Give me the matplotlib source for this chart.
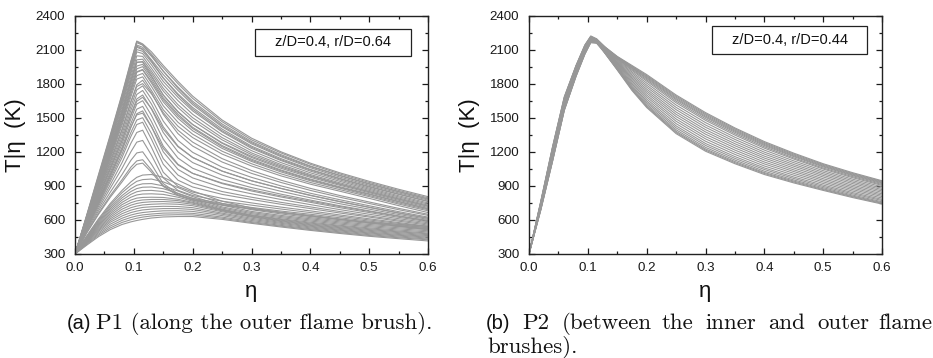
import matplotlib
matplotlib.use("Agg")
import matplotlib.pyplot as plt
from matplotlib.patches import Rectangle
from matplotlib.ticker import MultipleLocator

# ---------------- data ----------------
eta = [0.0, 0.02, 0.04, 0.06, 0.08, 0.095, 0.105, 0.115, 0.13, 0.15, 0.175,
       0.20, 0.25, 0.30, 0.35, 0.40, 0.45, 0.50, 0.55, 0.60]

# P1 (z/D=0.4, r/D=0.64): conditional temperature samples
T_p1 = [
    [300, 640, 990, 1340, 1700, 1990, 2175, 2150, 2080, 1960, 1820, 1690, 1480, 1320, 1200, 1100, 1015, 940, 870, 805],
    [300, 645, 1000, 1350, 1710, 2000, 2170, 2140, 2050, 1910, 1760, 1630, 1430, 1280, 1165, 1070, 990, 915, 848, 785],
    [300, 635, 975, 1320, 1680, 1970, 2160, 2140, 2060, 1940, 1800, 1670, 1465, 1305, 1190, 1090, 1005, 930, 860, 795],
    [300, 630, 965, 1305, 1660, 1950, 2140, 2120, 2040, 1910, 1770, 1645, 1445, 1290, 1175, 1075, 993, 920, 850, 785],
    [300, 625, 960, 1300, 1655, 1945, 2130, 2105, 2000, 1850, 1700, 1575, 1385, 1240, 1130, 1040, 962, 890, 825, 762],
    [300, 625, 955, 1290, 1640, 1930, 2120, 2100, 2010, 1880, 1740, 1615, 1420, 1270, 1157, 1060, 978, 905, 838, 775],
    [300, 620, 945, 1275, 1620, 1910, 2100, 2085, 1990, 1850, 1710, 1590, 1400, 1250, 1140, 1045, 966, 895, 828, 765],
    [300, 615, 935, 1260, 1600, 1890, 2080, 2065, 1965, 1820, 1680, 1560, 1375, 1230, 1123, 1030, 952, 880, 813, 750],
    [300, 610, 925, 1245, 1575, 1860, 2045, 2040, 1935, 1790, 1650, 1530, 1350, 1210, 1105, 1015, 940, 870, 803, 740],
    [300, 605, 915, 1230, 1555, 1835, 2010, 2015, 1910, 1760, 1615, 1500, 1325, 1190, 1088, 1000, 927, 860, 793, 730],
    [300, 600, 910, 1225, 1545, 1820, 1990, 1990, 1870, 1700, 1550, 1440, 1280, 1160, 1066, 985, 914, 848, 784, 722],
    [300, 600, 905, 1215, 1535, 1810, 1985, 1995, 1890, 1735, 1590, 1475, 1305, 1175, 1076, 990, 917, 850, 783, 720],
    [300, 595, 895, 1200, 1515, 1785, 1955, 1970, 1860, 1700, 1555, 1440, 1275, 1150, 1055, 975, 905, 840, 773, 710],
    [300, 590, 885, 1185, 1495, 1760, 1930, 1950, 1840, 1675, 1530, 1415, 1255, 1135, 1040, 960, 892, 830, 763, 700],
    [300, 590, 880, 1180, 1485, 1745, 1905, 1925, 1820, 1660, 1515, 1405, 1245, 1125, 1033, 953, 886, 825, 760, 698],
    [300, 585, 875, 1170, 1475, 1735, 1900, 1920, 1805, 1640, 1495, 1385, 1230, 1115, 1023, 945, 880, 815, 750, 690],
    [300, 580, 865, 1155, 1455, 1710, 1870, 1890, 1775, 1605, 1460, 1355, 1205, 1095, 1006, 930, 867, 805, 740, 680],
    [300, 575, 855, 1140, 1435, 1685, 1840, 1860, 1740, 1570, 1425, 1325, 1180, 1075, 988, 915, 853, 790, 726, 665],
    [300, 565, 835, 1105, 1390, 1640, 1790, 1830, 1720, 1530, 1360, 1250, 1110, 1010, 930, 860, 800, 745, 690, 640],
    [300, 570, 845, 1120, 1400, 1640, 1775, 1800, 1710, 1545, 1390, 1285, 1140, 1035, 950, 878, 815, 758, 702, 650],
    [300, 560, 820, 1085, 1360, 1600, 1745, 1780, 1665, 1470, 1300, 1195, 1065, 975, 900, 835, 778, 725, 673, 625],
    [300, 555, 805, 1065, 1330, 1565, 1705, 1740, 1620, 1420, 1250, 1150, 1030, 945, 877, 815, 760, 710, 660, 615],
    [300, 550, 795, 1045, 1300, 1530, 1665, 1700, 1575, 1370, 1200, 1105, 995, 915, 852, 795, 743, 695, 648, 605],
    [300, 555, 800, 1050, 1300, 1520, 1645, 1680, 1580, 1400, 1245, 1150, 1030, 945, 878, 818, 763, 712, 662, 615],
    [300, 545, 780, 1020, 1270, 1490, 1620, 1650, 1520, 1310, 1145, 1055, 955, 885, 827, 775, 725, 680, 636, 595],
    [300, 540, 770, 1000, 1240, 1450, 1575, 1600, 1465, 1250, 1090, 1010, 920, 855, 802, 755, 708, 665, 623, 585],
    [300, 535, 755, 980, 1210, 1415, 1535, 1560, 1420, 1200, 1045, 970, 885, 830, 780, 735, 691, 650, 611, 575],
    [300, 540, 765, 995, 1225, 1420, 1525, 1540, 1420, 1230, 1085, 1010, 925, 865, 812, 765, 718, 675, 632, 592],
    [300, 530, 745, 960, 1180, 1370, 1480, 1500, 1360, 1140, 995, 925, 850, 800, 755, 715, 674, 635, 599, 565],
    [300, 525, 735, 940, 1150, 1335, 1440, 1460, 1310, 1090, 950, 890, 825, 780, 738, 700, 661, 625, 589, 555],
    [300, 520, 720, 910, 1105, 1275, 1370, 1390, 1240, 1020, 895, 845, 790, 750, 713, 680, 644, 610, 577, 545],
    [300, 510, 700, 880, 1055, 1200, 1285, 1300, 1170, 970, 860, 815, 765, 730, 696, 665, 632, 600, 569, 540],
    [300, 500, 680, 845, 1000, 1125, 1190, 1200, 1090, 920, 830, 790, 745, 710, 678, 650, 619, 590, 559, 530],
    [300, 490, 660, 815, 955, 1065, 1120, 1130, 1040, 900, 820, 780, 735, 700, 668, 640, 609, 580, 549, 520],
    [300, 485, 650, 800, 935, 1040, 1090, 1100, 1020, 895, 815, 775, 730, 695, 663, 635, 604, 575, 544, 515],
    [300, 460, 610, 745, 860, 935, 975, 995, 1000, 975, 915, 855, 765, 705, 665, 630, 603, 580, 561, 545],
    [300, 455, 600, 730, 840, 905, 940, 955, 960, 935, 885, 830, 745, 690, 653, 620, 593, 570, 551, 535],
    [300, 450, 590, 715, 815, 875, 905, 918, 920, 900, 855, 805, 730, 675, 640, 610, 583, 560, 541, 525],
    [300, 445, 580, 700, 795, 850, 876, 888, 890, 875, 835, 790, 715, 665, 630, 600, 573, 550, 531, 515],
    [300, 440, 570, 685, 775, 825, 848, 858, 860, 850, 815, 775, 705, 655, 620, 590, 563, 540, 521, 505],
    [300, 435, 560, 670, 755, 800, 820, 828, 830, 825, 800, 765, 695, 645, 610, 580, 553, 530, 511, 495],
    [300, 430, 550, 655, 735, 775, 792, 798, 800, 798, 782, 755, 690, 640, 604, 572, 546, 522, 502, 485],
    [300, 425, 540, 640, 715, 752, 768, 776, 780, 780, 770, 748, 685, 635, 598, 565, 539, 515, 495, 478],
    [300, 420, 530, 625, 695, 730, 745, 754, 760, 762, 755, 738, 680, 630, 592, 558, 532, 508, 488, 470],
    [300, 415, 520, 610, 675, 708, 722, 732, 738, 742, 738, 725, 672, 625, 586, 552, 525, 500, 480, 462],
    [300, 410, 510, 595, 655, 686, 700, 710, 716, 720, 718, 708, 660, 615, 578, 545, 517, 492, 472, 455],
    [300, 405, 500, 580, 635, 665, 678, 688, 695, 700, 700, 692, 650, 605, 570, 538, 510, 485, 465, 448],
    [300, 398, 488, 563, 615, 643, 656, 665, 673, 680, 681, 675, 638, 595, 561, 530, 503, 478, 458, 440],
    [300, 392, 476, 546, 596, 622, 635, 644, 652, 660, 662, 658, 625, 585, 552, 522, 495, 470, 450, 432],
    [300, 385, 465, 530, 578, 602, 615, 625, 635, 643, 646, 644, 615, 577, 545, 515, 488, 463, 443, 425],
    [300, 378, 453, 515, 560, 583, 595, 605, 617, 626, 630, 630, 605, 570, 538, 508, 481, 456, 435, 415],
]

# P2 (z/D=0.4, r/D=0.44)
T_p2 = [
    [300, 760, 1240, 1680, 1960, 2140, 2220, 2195, 2120, 2040, 1960, 1880, 1700, 1545, 1410, 1290, 1188, 1095, 1016, 945],
    [300, 720, 1180, 1620, 1910, 2100, 2190, 2180, 2118, 2036, 1953, 1871, 1690, 1535, 1401, 1281, 1180, 1088, 1009, 939],
    [300, 740, 1210, 1650, 1940, 2120, 2210, 2190, 2116, 2033, 1947, 1863, 1680, 1525, 1391, 1273, 1172, 1081, 1003, 933],
    [300, 700, 1150, 1590, 1890, 2080, 2180, 2175, 2115, 2029, 1940, 1854, 1669, 1514, 1382, 1264, 1164, 1074, 996, 927],
    [300, 755, 1235, 1675, 1955, 2135, 2215, 2190, 2113, 2026, 1934, 1845, 1659, 1504, 1372, 1255, 1157, 1067, 990, 920],
    [300, 690, 1120, 1570, 1870, 2065, 2165, 2165, 2110, 2021, 1925, 1834, 1646, 1491, 1360, 1244, 1146, 1057, 981, 912],
    [300, 735, 1205, 1645, 1935, 2115, 2205, 2185, 2108, 2016, 1916, 1822, 1632, 1477, 1347, 1232, 1136, 1048, 972, 904],
    [300, 715, 1175, 1615, 1905, 2095, 2190, 2175, 2104, 2009, 1903, 1805, 1612, 1457, 1328, 1215, 1120, 1034, 959, 892],
    [300, 705, 1155, 1595, 1895, 2085, 2180, 2170, 2101, 2002, 1890, 1787, 1591, 1436, 1309, 1197, 1104, 1020, 946, 879],
    [300, 750, 1225, 1665, 1950, 2130, 2210, 2185, 2097, 1994, 1876, 1770, 1571, 1416, 1290, 1180, 1088, 1006, 933, 867],
    [300, 695, 1125, 1575, 1875, 2070, 2170, 2160, 2094, 1987, 1863, 1752, 1550, 1395, 1271, 1162, 1073, 992, 920, 855],
    [300, 745, 1215, 1655, 1945, 2125, 2200, 2180, 2090, 1980, 1850, 1735, 1530, 1375, 1253, 1145, 1057, 978, 906, 843],
    [300, 725, 1185, 1625, 1915, 2100, 2185, 2170, 2086, 1973, 1837, 1718, 1510, 1355, 1234, 1128, 1041, 963, 893, 830],
    [300, 700, 1145, 1585, 1885, 2075, 2175, 2165, 2083, 1966, 1824, 1700, 1489, 1334, 1215, 1110, 1026, 949, 880, 818],
    [300, 765, 1245, 1685, 1960, 2140, 2215, 2185, 2079, 1958, 1810, 1683, 1469, 1314, 1196, 1093, 1010, 935, 867, 806],
    [300, 685, 1115, 1565, 1865, 2060, 2165, 2160, 2076, 1951, 1797, 1665, 1448, 1293, 1177, 1075, 994, 921, 854, 793],
    [300, 740, 1205, 1645, 1935, 2115, 2195, 2175, 2072, 1944, 1784, 1648, 1428, 1273, 1158, 1058, 978, 907, 841, 781],
    [300, 720, 1180, 1620, 1905, 2090, 2180, 2165, 2069, 1938, 1773, 1634, 1411, 1256, 1142, 1044, 965, 895, 830, 771],
    [300, 705, 1150, 1590, 1885, 2075, 2170, 2160, 2066, 1932, 1762, 1619, 1394, 1239, 1127, 1029, 952, 884, 819, 760],
    [300, 755, 1230, 1670, 1950, 2130, 2205, 2180, 2064, 1927, 1753, 1607, 1380, 1225, 1114, 1017, 942, 874, 810, 752],
    [300, 690, 1120, 1565, 1865, 2060, 2160, 2155, 2062, 1924, 1747, 1598, 1370, 1215, 1104, 1009, 934, 867, 804, 746],
    [300, 735, 1200, 1640, 1930, 2110, 2190, 2170, 2060, 1920, 1740, 1590, 1360, 1205, 1095, 1000, 926, 860, 797, 740],
]

labels = ["z/D=0.4, r/D=0.64", "z/D=0.4, r/D=0.44"]
xticks = [0.0, 0.1, 0.2, 0.3, 0.4, 0.5, 0.6]
yticks = [300, 600, 900, 1200, 1500, 1800, 2100, 2400]

# ---------------- figure ----------------
W, H = 933, 358
fig = plt.figure(figsize=(W / 100, H / 100), dpi=100)
SANS = ["Liberation Sans", "DejaVu Sans"]
SERIF = ["cmr10", "DejaVu Serif"]
plt.rcParams["font.family"] = SANS

line_col = "#979797"

def fx(px):
    return px / W

def fy(py):
    return 1 - py / H

axes_px = [(75, 428), (529, 882)]
top_px, bot_px = 15.5, 254
box_px = [(255, 29, 411, 56), (712, 26, 867, 54)]

for i, (data, lab) in enumerate(zip([T_p1, T_p2], labels)):
    l, r = axes_px[i]
    ax = fig.add_axes([fx(l), fy(bot_px), fx(r - l), (bot_px - top_px) / H])
    for curve in data:
        ax.plot(eta, curve, color=line_col, lw=0.8, solid_joinstyle="round")
    ax.set_xlim(0, 0.6)
    ax.set_ylim(300, 2400)
    ax.set_xticks(xticks)
    ax.set_xticklabels([f"{t:.1f}" for t in xticks])
    ax.set_yticks(yticks)
    ax.set_yticklabels([str(t) for t in yticks])
    ax.xaxis.set_minor_locator(MultipleLocator(0.05))
    ax.yaxis.set_minor_locator(MultipleLocator(150))
    ax.tick_params(which="both", direction="in", top=True, right=True,
                   labelsize=9.6, colors="#1a1a1a", width=0.9)
    ax.tick_params(axis="x", which="major", pad=6)
    ax.tick_params(axis="y", which="major", pad=7)
    ax.tick_params(which="major", length=4)
    ax.tick_params(which="minor", length=2.2)
    for s in ax.spines.values():
        s.set_linewidth(1.0)
        s.set_color("#222222")
    # label box
    bx0, by0, bx1, by1 = box_px[i]
    fig.patches.append(Rectangle((fx(bx0), fy(by1)), fx(bx1 - bx0), (by1 - by0) / H,
                                 transform=fig.transFigure, fill=False,
                                 edgecolor="#222222", lw=0.9))
    fig.text(fx((bx0 + bx1) / 2), fy((by0 + by1) / 2), lab, ha="center",
             va="center", fontsize=10.5, color="#111111")
    # axis labels
    fig.text(fx((l + r) / 2), fy(291), "η", ha="center", va="center",
             fontsize=16, color="#111111")
    fig.text(fx(l - 59), fy(135), "T|η  (K)", ha="center", va="center",
             rotation=90, fontsize=16, color="#111111")

# captions
cap_base = fy(329)
CAP = 16.5
fig.text(fx(67), cap_base, "(a)", fontsize=14.5, va="baseline", ha="left", color="#111111")
fig.text(fx(96), cap_base, "P1 (along the outer flame brush).", fontsize=CAP,
         family=SERIF, va="baseline", ha="left", color="#111111")

fig.text(fx(486), cap_base, "(b)", fontsize=14.5, va="baseline", ha="left", color="#111111")
words_b = ["P2", "(between", "the", "inner", "and", "outer", "flame"]
words_x = [522, 562, 662, 705, 768, 817, 878]
for w, x in zip(words_b, words_x):
    fig.text(fx(x), cap_base, w, fontsize=CAP, family=SERIF, va="baseline",
             ha="left", color="#111111")
fig.text(fx(487), fy(353), "brushes).", fontsize=CAP, family=SERIF,
         va="baseline", ha="left", color="#111111")

fig.savefig("out.png", dpi=100)
